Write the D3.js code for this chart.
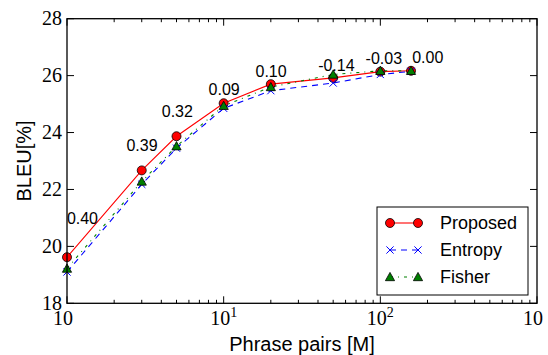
<!DOCTYPE html>
<html>
<head>
<meta charset="utf-8">
<script src="https://cdn.jsdelivr.net/npm/d3@7"></script>
<style>
  html, body { margin: 0; padding: 0; background: #fff; }
  svg { display: block; }
</style>
</head>
<body>
<svg id="chart" width="548" height="355"></svg>
<script>
// ---- data ----
const phrasePairs = [1, 3, 5, 10, 20, 50, 100, 157];
const proposed = [19.62, 22.67, 23.87, 25.03, 25.70, 25.92, 26.14, 26.17];
const entropy  = [19.10, 22.18, 23.45, 24.85, 25.47, 25.74, 26.04, 26.15];
const fisher   = [19.22, 22.28, 23.52, 24.94, 25.60, 26.04, 26.17, 26.17];
const gainLabels = ["0.40", "0.39", "0.32", "0.09", "0.10", "-0.14", "-0.03", "0.00"];
const gainLabelX = [1.255, 3.01, 5.06, 10.07, 20.07, 52.4, 105.3, 200.7];
const gainLabelY = [21.0, 23.56, 24.76, 25.52, 26.17, 26.35, 26.61, 26.63];
const yTicks = [18, 20, 22, 24, 26, 28];
const xTickLabels = [{v: 1, base: "10", exp: ""}, {v: 10, base: "10", exp: "1"}, {v: 100, base: "10", exp: "2"}, {v: 1000, base: "10", exp: ""}];
const seriesNames = ["Proposed", "Entropy", "Fisher"];

// ---- layout ----
const svg = d3.select("#chart");
const L = 67, R = 537, T = 18.7, B = 303.3;
const x = d3.scaleLog().domain([1, 1000]).range([L, R]);
const y = d3.scaleLinear().domain([18, 28]).range([B, T]);

const serif = "'Liberation Serif', 'DejaVu Serif', serif";
const sans = "'Liberation Sans', Arial, sans-serif";

// lines
const line = d3.line().x((d, i) => x(phrasePairs[i])).y(d => y(d));
const styles = [
  {data: proposed, color: "#ff0000", dash: null, marker: "circle"},
  {data: entropy, color: "#0000ff", dash: "6,5", marker: "x"},
  {data: fisher, color: "#008000", dash: "3,5,1,5", marker: "tri"}
];

const clip = svg.append("clipPath").attr("id", "clip")
  .append("rect").attr("x", L - 6).attr("y", T).attr("width", R - L + 6).attr("height", B - T + 6);

function drawMarker(g, type, cx, cy, color) {
  if (type === "circle") {
    g.append("circle").attr("cx", cx).attr("cy", cy).attr("r", 4.5)
      .attr("fill", "#ff0000").attr("stroke", "#000").attr("stroke-width", 0.8);
  } else if (type === "x") {
    const s = 3.6;
    g.append("path").attr("d", `M${cx - s},${cy - s}L${cx + s},${cy + s}M${cx - s},${cy + s}L${cx + s},${cy - s}`)
      .attr("stroke", "#0000ff").attr("stroke-width", 1).attr("fill", "none");
  } else {
    const s = 4.6;
    g.append("path").attr("d", `M${cx},${cy - s}L${cx + s},${cy + s * 0.8}L${cx - s},${cy + s * 0.8}Z`)
      .attr("fill", "#007f00").attr("stroke", "#000").attr("stroke-width", 0.8);
  }
}

const plot = svg.append("g").attr("clip-path", "url(#clip)");
styles.forEach(st => {
  plot.append("path").datum(st.data).attr("d", line)
    .attr("fill", "none").attr("stroke", st.color).attr("stroke-width", 1.1)
    .attr("stroke-dasharray", st.dash);
});
styles.forEach(st => {
  st.data.forEach((v, i) => drawMarker(plot, st.marker, x(phrasePairs[i]), y(v), st.color));
});

// gain annotations
gainLabels.forEach((t, i) => {
  svg.append("text").attr("x", x(gainLabelX[i])).attr("y", y(gainLabelY[i]))
    .attr("dy", "0.36em").attr("text-anchor", "middle")
    .attr("font-family", sans).attr("font-size", 16).attr("fill", "#000").text(t);
});

// axes frame
svg.append("rect").attr("x", L).attr("y", T).attr("width", R - L).attr("height", B - T)
  .attr("fill", "none").attr("stroke", "#000").attr("stroke-width", 1.3);

// y ticks
const tickG = svg.append("g").attr("stroke", "#000").attr("stroke-width", 1);
yTicks.forEach(v => {
  tickG.append("line").attr("x1", L).attr("x2", L + 7).attr("y1", y(v)).attr("y2", y(v));
  tickG.append("line").attr("x1", R).attr("x2", R - 7).attr("y1", y(v)).attr("y2", y(v));
  svg.append("text").attr("x", L - 5).attr("y", y(v)).attr("dy", "0.33em")
    .attr("text-anchor", "end").attr("font-family", serif).attr("font-size", 20).text(v);
});

// x ticks (log major + minor)
const majors = [1, 10, 100, 1000];
majors.forEach(v => {
  tickG.append("line").attr("x1", x(v)).attr("x2", x(v)).attr("y1", B).attr("y2", B - 7);
  tickG.append("line").attr("x1", x(v)).attr("x2", x(v)).attr("y1", T).attr("y2", T + 7);
});
[1, 10, 100].forEach(dec => {
  for (let k = 2; k <= 9; k++) {
    const v = dec * k;
    tickG.append("line").attr("x1", x(v)).attr("x2", x(v)).attr("y1", B).attr("y2", B - 3.5);
    tickG.append("line").attr("x1", x(v)).attr("x2", x(v)).attr("y1", T).attr("y2", T + 3.5);
  }
});
xTickLabels.forEach(d => {
  let cx = x(d.v);
  let anchor = "middle";
  const t = svg.append("text").attr("y", 325).attr("font-family", serif).attr("font-size", 20);
  if (d.v === 1) { t.attr("x", cx + 6).attr("text-anchor", "end"); }
  else if (d.v === 1000) { t.attr("x", cx - 14).attr("text-anchor", "start"); }
  else { t.attr("x", cx).attr("text-anchor", "middle"); }
  t.append("tspan").text(d.base);
  if (d.exp) t.append("tspan").attr("dy", -8).attr("font-size", 14).text(d.exp);
});

// axis labels
svg.append("text").attr("x", (L + R) / 2).attr("y", 351).attr("text-anchor", "middle")
  .attr("font-family", sans).attr("font-size", 20).text("Phrase pairs [M]");
svg.append("text").attr("transform", `translate(31,${(T + B) / 2}) rotate(-90)`)
  .attr("text-anchor", "middle").attr("font-family", sans).attr("font-size", 20).text("BLEU[%]");

// legend
const lg = svg.append("g");
lg.append("rect").attr("x", 377).attr("y", 207).attr("width", 151).attr("height", 88)
  .attr("fill", "#fff").attr("stroke", "#000").attr("stroke-width", 1);
styles.forEach((st, i) => {
  const ly = 223 + i * 27;
  lg.append("line").attr("x1", 390).attr("x2", 418).attr("y1", ly).attr("y2", ly)
    .attr("stroke", st.color).attr("stroke-width", 1.1).attr("stroke-dasharray", st.dash);
  drawMarker(lg, st.marker, 390, ly, st.color);
  drawMarker(lg, st.marker, 418, ly, st.color);
  lg.append("text").attr("x", 440).attr("y", ly).attr("dy", "0.36em")
    .attr("font-family", sans).attr("font-size", 18).text(seriesNames[i]);
});
</script>
</body>
</html>
